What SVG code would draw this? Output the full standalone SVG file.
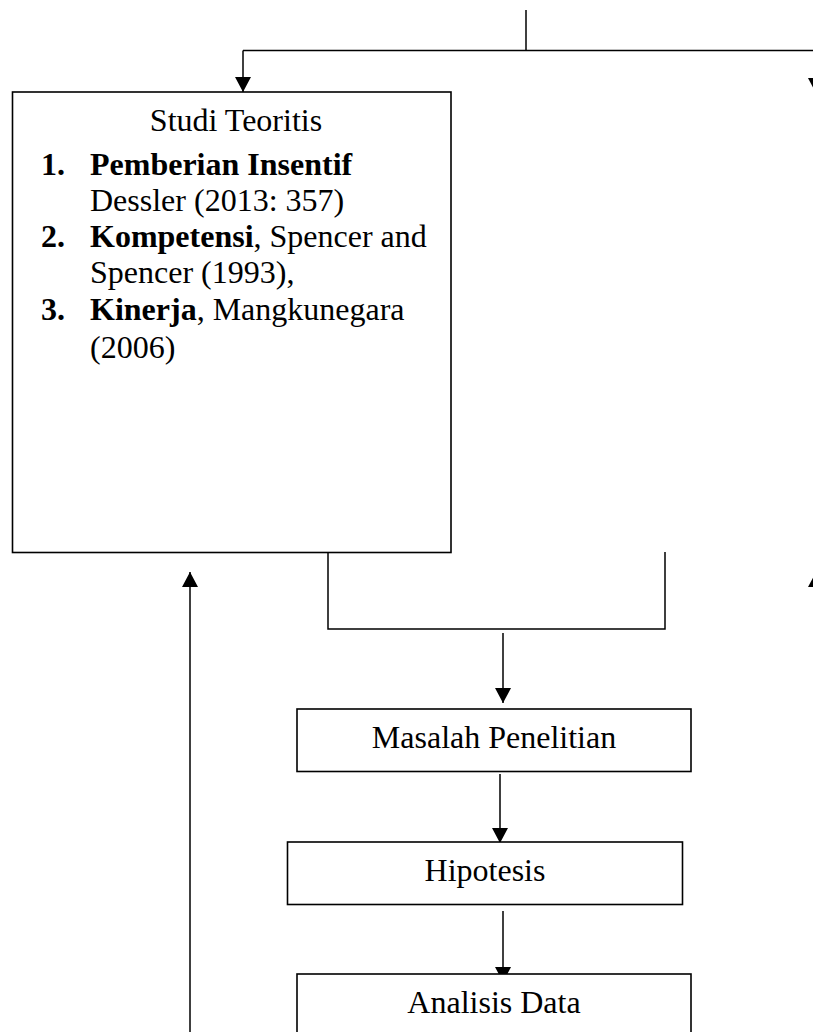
<svg xmlns="http://www.w3.org/2000/svg" width="813" height="1032" viewBox="0 0 813 1032">
  <style>
    .box { fill: #ffffff; stroke: #000000; stroke-width: 1.6; }
    .ln { fill: none; stroke: #000000; stroke-width: 1.5; }
    .arr { marker-end: url(#ah); }
    .t { font-family: "Liberation Serif", "Times New Roman", serif; font-size: 32px; fill: #000000; }
    .b { font-weight: bold; }
  </style>
  <defs>
    <marker id="ah" viewBox="0 0 15 16" refX="15" refY="8" markerWidth="15" markerHeight="16" markerUnits="userSpaceOnUse" orient="auto">
      <path d="M0,0 L15,8 L0,16 z" fill="#000000"/>
    </marker>
  </defs>
  <rect width="813" height="1032" fill="#ffffff"/>

  <g id="connectors">
    <line class="ln" x1="526" y1="10" x2="526" y2="50.5"/>
    <line class="ln" x1="243" y1="50.5" x2="830" y2="50.5"/>
    <line class="ln arr" x1="243" y1="50.5" x2="243" y2="92"/>
    <line class="ln arr" x1="816" y1="50.5" x2="816" y2="93"/>
    <line class="ln arr" x1="816" y1="640" x2="816" y2="572"/>
    <polyline class="ln" points="328,552 328,629 665,629 665,552"/>
    <line class="ln arr" x1="503" y1="633" x2="503" y2="703"/>
    <line class="ln arr" x1="500" y1="774" x2="500" y2="843"/>
    <line class="ln arr" x1="503" y1="911" x2="503" y2="982"/>
    <line class="ln arr" x1="190" y1="1040" x2="190" y2="572"/>
  </g>

  <g id="studi-teoritis">
    <rect class="box" x="12.5" y="92" width="438.5" height="460.5"/>
    <text class="t" x="236" y="131" text-anchor="middle">Studi Teoritis</text>
    <text class="t b" x="41" y="175">1.</text>
    <text class="t b" x="90" y="175">Pemberian Insentif</text>
    <text class="t" x="90" y="211">Dessler (2013: 357)</text>
    <text class="t b" x="41" y="247">2.</text>
    <text class="t" x="90" y="247"><tspan class="b">Kompetensi</tspan>, Spencer and</text>
    <text class="t" x="90" y="283">Spencer (1993),</text>
    <text class="t b" x="41" y="320">3.</text>
    <text class="t" x="90" y="320"><tspan class="b">Kinerja</tspan>, Mangkunegara</text>
    <text class="t" x="90" y="358">(2006)</text>
  </g>

  <g id="masalah-penelitian">
    <rect class="box" x="297" y="709" width="394" height="62.5"/>
    <text class="t" x="494" y="748" text-anchor="middle">Masalah Penelitian</text>
  </g>

  <g id="hipotesis">
    <rect class="box" x="287.5" y="842" width="395" height="62.5"/>
    <text class="t" x="485" y="881" text-anchor="middle">Hipotesis</text>
  </g>

  <g id="analisis-data">
    <rect class="box" x="297" y="974" width="394" height="70"/>
    <text class="t" x="494" y="1013" text-anchor="middle">Analisis Data</text>
  </g>
</svg>
